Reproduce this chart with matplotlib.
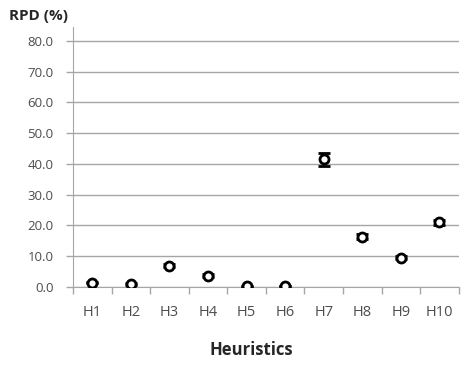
import numpy as np
import matplotlib.pyplot as plt

heuristics = ['H1', 'H2', 'H3', 'H4', 'H5', 'H6', 'H7', 'H8', 'H9', 'H10']
rpd = [1.3, 0.9, 6.9, 3.5, 0.1, 0.2, 41.4, 16.2, 9.4, 20.9]
err = [0.2, 0.2, 0.6, 0.5, 0.1, 0.1, 2.1, 0.8, 0.5, 0.7]
yticks = [0, 10, 20, 30, 40, 50, 60, 70, 80]

plt.rcParams['font.family'] = ['Open Sans', 'DejaVu Sans']
grey = '#4d4d4d'
line_col = '#a6a6a6'

fig = plt.figure(figsize=(4.62, 3.65), dpi=100)
ax = fig.add_axes([0.158, 0.2145, 0.835, 0.7115])

x = np.arange(len(heuristics))
ax.errorbar(x, rpd, yerr=err, fmt='o', mfc='white', mec='black', mew=2,
            ms=6.5, ecolor='black', elinewidth=1.5, capsize=4, capthick=1.5, zorder=3)

ax.set_xlim(-0.5, len(heuristics) - 0.5)
ax.set_ylim(0, 84.5)
ax.set_yticks(yticks)
ax.set_yticklabels([f'{v:.1f}' for v in yticks], fontsize=9.5, color=grey)
ax.yaxis.grid(True, color=line_col, lw=1)
ax.set_axisbelow(True)

ax.set_xticks(x)
ax.set_xticklabels(heuristics, fontsize=10.5, color=grey)
ax.set_xticks(np.arange(len(heuristics) + 1) - 0.5, minor=True)
ax.tick_params(axis='x', which='major', length=0, pad=13)
ax.tick_params(axis='x', which='minor', length=5, color=line_col, width=1)
ax.tick_params(axis='y', length=5, color=line_col, width=1, pad=9)

for s in ['top', 'right']:
    ax.spines[s].set_visible(False)
for s in ['left', 'bottom']:
    ax.spines[s].set_color(line_col)

fig.text(0.02, 0.955, 'RPD (%)', fontsize=11, fontweight='bold', color='#262626', va='center')
fig.text(0.545, 0.04, 'Heuristics', fontsize=12, fontweight='bold', color='#262626', ha='center', va='center')

fig.savefig('out.png', dpi=100)
